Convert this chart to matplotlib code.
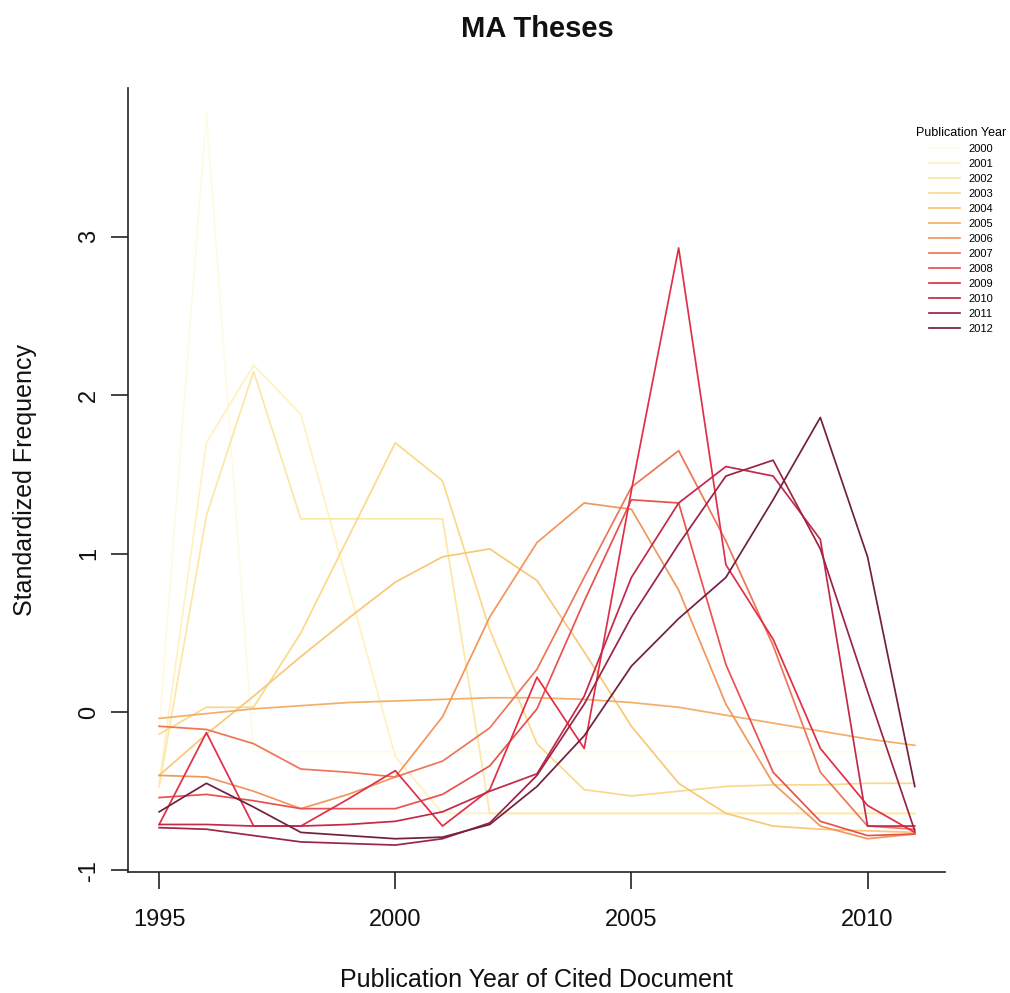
import numpy as np
import matplotlib
matplotlib.use("Agg")
import matplotlib.pyplot as plt

plt.rcParams['font.family'] = ['Liberation Sans', 'DejaVu Sans']

# cited-document years
years = list(range(1995, 2012))

# standardized frequencies, one series per thesis publication year
s2000 = [-0.10, 3.78, -0.25, -0.25, -0.25, -0.25, -0.25, -0.25, -0.25, -0.25, -0.25, -0.25, -0.25, -0.25, -0.25, -0.25, -0.25]
s2001 = [-0.45, 1.70, 2.19, 1.88, 0.80, -0.28, -0.64, -0.64, -0.64, -0.64, -0.64, -0.64, -0.64, -0.64, -0.64, -0.64, -0.64]
s2002 = [-0.47, 1.24, 2.15, 1.22, 1.22, 1.22, 1.22, -0.64, -0.64, -0.64, -0.64, -0.64, -0.64, -0.64, -0.64, -0.64, -0.64]
s2003 = [-0.14, 0.03, 0.03, 0.50, 1.10, 1.70, 1.46, 0.52, -0.20, -0.49, -0.53, -0.50, -0.47, -0.46, -0.46, -0.45, -0.45]
s2004 = [-0.40, -0.14, 0.10, 0.35, 0.59, 0.82, 0.98, 1.03, 0.83, 0.38, -0.09, -0.45, -0.64, -0.72, -0.74, -0.75, -0.76]
s2005 = [-0.04, -0.01, 0.02, 0.04, 0.06, 0.07, 0.08, 0.09, 0.09, 0.08, 0.06, 0.03, -0.02, -0.07, -0.12, -0.17, -0.21]
s2006 = [-0.40, -0.41, -0.50, -0.61, -0.52, -0.41, -0.03, 0.60, 1.07, 1.32, 1.28, 0.77, 0.05, -0.45, -0.72, -0.80, -0.77]
s2007 = [-0.09, -0.11, -0.20, -0.36, -0.38, -0.41, -0.31, -0.10, 0.27, 0.85, 1.42, 1.65, 1.08, 0.42, -0.38, -0.72, -0.74]
s2008 = [-0.54, -0.52, -0.56, -0.61, -0.61, -0.61, -0.52, -0.34, 0.02, 0.70, 1.34, 1.32, 0.30, -0.38, -0.69, -0.78, -0.77]
s2009 = [-0.71, -0.13, -0.72, -0.72, -0.55, -0.37, -0.72, -0.49, 0.22, -0.23, 1.40, 2.93, 0.93, 0.46, -0.23, -0.59, -0.76]
s2010 = [-0.71, -0.71, -0.72, -0.72, -0.71, -0.69, -0.63, -0.50, -0.39, 0.10, 0.85, 1.32, 1.55, 1.49, 1.09, -0.72, -0.72]
s2011 = [-0.73, -0.74, -0.78, -0.82, -0.83, -0.84, -0.80, -0.70, -0.40, 0.05, 0.60, 1.06, 1.49, 1.59, 1.03, 0.13, -0.75]
s2012 = [-0.63, -0.45, -0.60, -0.76, -0.78, -0.80, -0.79, -0.71, -0.47, -0.15, 0.29, 0.59, 0.85, 1.34, 1.86, 0.98, -0.47]

series = [s2000, s2001, s2002, s2003, s2004, s2005, s2006,
          s2007, s2008, s2009, s2010, s2011, s2012]
labels = ['2000', '2001', '2002', '2003', '2004', '2005', '2006',
          '2007', '2008', '2009', '2010', '2011', '2012']
colors = ['#fffbe3', '#fff1c0', '#fde7a6', '#fbd98a', '#f8c878', '#f5ae68',
          '#f1975c', '#ee7656', '#e8524e', '#e02f47', '#c4284a', '#9c2445',
          '#722040']

fig = plt.figure(figsize=(10.1, 9.93), dpi=100)
ax = fig.add_axes([128 / 1010, 1 - 872 / 993, (945 - 128) / 1010, (872 - 88) / 993])

for vals, lab, col in zip(series, labels, colors):
    ax.plot(years, vals, color=col, lw=1.25, label=lab)

ax.set_xlim(1994.34, 2011.64)
ax.set_ylim(-1.01, 3.94)

for side in ['top', 'right']:
    ax.spines[side].set_visible(False)
for side in ['left', 'bottom']:
    ax.spines[side].set_color('#222222')
    ax.spines[side].set_linewidth(1.2)

ax.set_xticks([1995, 2000, 2005, 2010])
ax.set_xticklabels(['1995', '2000', '2005', '2010'])
ax.set_yticks([-1, 0, 1, 2, 3])
ax.set_yticklabels(['-1', '0', '1', '2', '3'], rotation=90, va='center')
ax.tick_params(axis='both', direction='out', length=12, width=1.2,
               color='#222222', labelsize=17, labelcolor='#111111')
ax.tick_params(axis='x', pad=15)
ax.tick_params(axis='y', pad=8)

ax.set_xlabel('Publication Year of Cited Document', fontsize=18, labelpad=26, color='#111111')
ax.set_ylabel('Standardized Frequency', fontsize=18, labelpad=30, color='#111111')

fig.text(537 / 1010, 1 - 29 / 993, 'MA Theses', ha='center', va='center',
         fontsize=21, fontweight='bold', color='#111111')

leg = ax.legend(loc='upper right', bbox_to_anchor=(1014 / 1010, 1 - 119 / 993),
                bbox_transform=fig.transFigure, frameon=False, fontsize=8,
                title='Publication Year', title_fontsize=9, handlelength=2.8,
                labelspacing=0.45, handletextpad=0.8, borderpad=0.2)

fig.savefig('out.png', dpi=100)
